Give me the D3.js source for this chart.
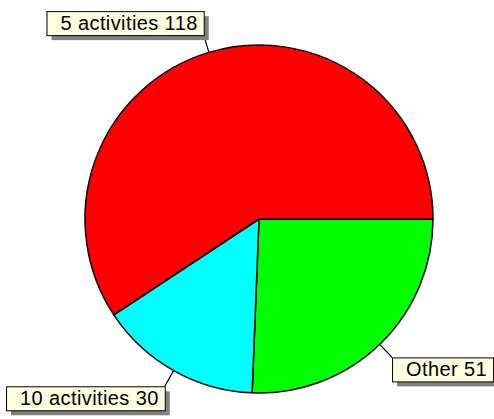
<!DOCTYPE html>
<html><head><meta charset="utf-8">
<script src="https://cdn.jsdelivr.net/npm/d3@7"></script>
<style>body{margin:0;background:#fff;}svg{display:block;}</style>
</head><body>
<script>
const categories = ["Other", "10 activities", "5 activities"];
const values = [51, 30, 118];
const colors = ["#00ff00", "#00ffff", "#ff0000"];

const W = 494, H = 419;
const cx = 259, cy = 219, R = 174;
const svg = d3.select("body").append("svg").attr("width", W).attr("height", H);

const pie = d3.pie().sort(null).value(d => d.v).startAngle(Math.PI/2).endAngle(Math.PI/2 + 2*Math.PI);
const data = categories.map((c,i) => ({c, v: values[i], col: colors[i]}));
const arcs = pie(data);
const arc = d3.arc().innerRadius(0).outerRadius(R);

const g = svg.append("g").attr("transform", `translate(${cx},${cy})`);
g.selectAll("path").data(arcs).join("path")
  .attr("d", arc).attr("fill", d => d.data.col)
  .attr("stroke", "#000").attr("stroke-width", 1.5).attr("stroke-linejoin", "round");

const fontSize = 20;
const boxH = 24, padL = 14, padR = 6, shadow = 5, lead = 18;
arcs.forEach(a => {
  const m = (a.startAngle + a.endAngle) / 2;
  const sx = Math.sin(m), sy = -Math.cos(m);
  const p0 = [cx + R*sx, cy + R*sy];
  const p1 = [cx + (R+lead)*sx, cy + (R+lead)*sy];
  const label = a.data.c + " " + a.data.v;
  const t = svg.append("text").attr("font-family", "Liberation Sans, Arial, sans-serif")
    .attr("font-size", fontSize).attr("letter-spacing", 0.4).attr("fill", "#000").text(label);
  const tw = t.node().getComputedTextLength();
  const bw = tw + padL + padR;
  const bx = sx < 0 ? p1[0] - bw : p1[0];
  const by = sy < 0 ? p1[1] - boxH : p1[1];
  svg.append("line").attr("x1", p0[0]).attr("y1", p0[1]).attr("x2", p1[0]).attr("y2", p1[1])
    .attr("stroke", "#000").attr("stroke-width", 1.2);
  svg.append("rect").attr("x", bx + shadow).attr("y", by + shadow).attr("width", bw).attr("height", boxH)
    .attr("fill", "#808080");
  svg.append("rect").attr("x", bx + 0.5).attr("y", by + 0.5).attr("width", bw).attr("height", boxH)
    .attr("fill", "#ffffe0").attr("stroke", "#000").attr("stroke-width", 1);
  t.attr("x", bx + padL).attr("y", by + 19).raise();
});
</script>
</body></html>
